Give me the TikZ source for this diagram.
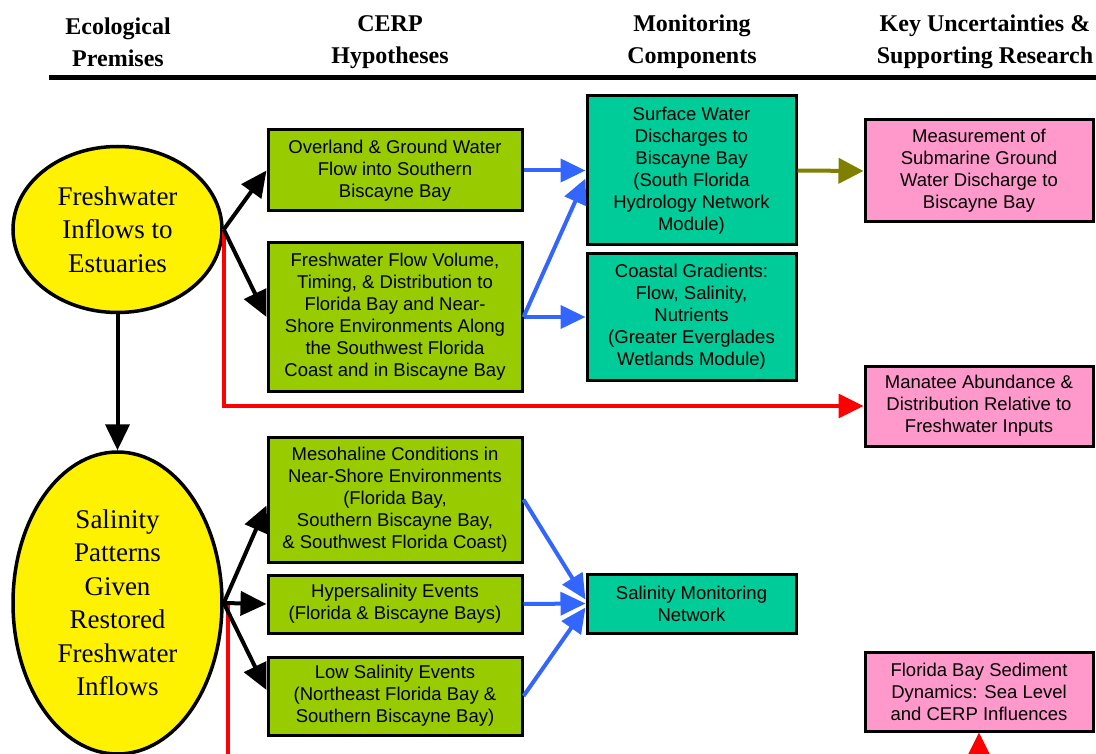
\documentclass[tikz,border=0pt]{standalone}
\usepackage{fontspec}
\setmainfont{Liberation Serif}
\setsansfont{Liberation Sans}
\usetikzlibrary{arrows.meta,shapes.geometric}
\definecolor{boxgreen}{HTML}{99CC00}
\definecolor{boxteal}{HTML}{00CC99}
\definecolor{boxpink}{HTML}{FF99CC}
\definecolor{arrblue}{HTML}{3366FF}
\definecolor{arrolive}{HTML}{808000}
\begin{document}
\begin{tikzpicture}[x=1pt,y=-1pt,
  box/.style={draw=black,line width=3pt,rectangle,inner sep=0pt,align=center,
    font=\sffamily\fontsize{18.5}{22}\selectfont},
  hyp/.style={box,fill=boxgreen,minimum width=254pt},
  mon/.style={box,fill=boxteal,minimum width=209pt},
  unc/.style={box,fill=boxpink,minimum width=228pt},
  prem/.style={ellipse,draw=black,line width=3.5pt,fill=yellow,inner sep=0pt,align=center,
    font=\rmfamily\fontsize{27}{33.5}\selectfont,minimum width=209pt},
  head/.style={align=center,font=\rmfamily\bfseries\fontsize{24}{32}\selectfont},
  blk/.style={draw=black,line width=4pt,-{Triangle[length=26pt,width=24pt]}},
  blu/.style={draw=arrblue,line width=4pt,-{Triangle[length=25pt,width=23pt]}},
  olv/.style={draw=arrolive,line width=4pt,-{Triangle[length=25pt,width=25pt]}},
  rd/.style={draw=red,line width=3.5pt,-{Triangle[length=25pt,width=24pt]}},
  rdl/.style={draw=red,line width=3.5pt},
]
\useasboundingbox (0,0) rectangle (1096,754);

% headings
\node[head] (h1) at (118,42) {Ecological\\Premises};
\node[head] (h2) at (390,42) {CERP\\Hypotheses};
\node[head] (h3) at (692,42) {Monitoring\\Components};
\node[head] (h4) at (985,42) {Key Uncertainties \&\\Supporting Research};
\coordinate (rl) at (49,78);
\coordinate (rr) at (1100,78);
\draw[line width=5pt] (rl) -- (rr);

% premises
\node[prem,minimum height=166pt] (e1) at (117.5,229.5) {Freshwater\\Inflows to\\Estuaries};
\node[prem,minimum height=302pt] (e2) at (117.5,603) {Salinity\\Patterns\\Given\\Restored\\Freshwater\\Inflows};

% hypotheses
\node[hyp,minimum height=81pt] (ov) at (395,170.5) {Overland \& Ground Water\\Flow into Southern\\Biscayne Bay};
\node[hyp,minimum height=148pt] (fv) at (395,317) {Freshwater Flow Volume,\\Timing, \& Distribution to\\Florida Bay and Near-\\Shore Environments Along\\the Southwest Florida\\Coast and in Biscayne Bay};
\node[hyp,minimum height=125pt] (meso) at (395,499.5) {Mesohaline Conditions in\\Near-Shore Environments\\(Florida Bay,\\Southern Biscayne Bay,\\\& Southwest Florida Coast)};
\node[hyp,minimum height=58pt] (hy) at (395,604) {Hypersalinity Events\\(Florida \& Biscayne Bays)};
\node[hyp,minimum height=78pt] (lo) at (395,696) {Low Salinity Events\\(Northeast Florida Bay \&\\Southern Biscayne Bay)};

% monitoring
\node[mon,minimum height=149pt] (sw) at (691.5,170.5) {Surface Water\\Discharges to\\Biscayne Bay\\(South Florida\\Hydrology Network\\Module)};
\node[mon,minimum height=126pt] (cg) at (691.5,317) {Coastal Gradients:\\Flow, Salinity,\\Nutrients\\(Greater Everglades\\Wetlands Module)};
\node[mon,minimum height=59pt] (sm) at (691.5,603.5) {Salinity Monitoring\\Network};

% uncertainties
\node[unc,minimum height=102pt] (me) at (979,171) {Measurement of\\Submarine Ground\\Water Discharge to\\Biscayne Bay};
\node[unc,minimum height=80pt] (ma) at (979,406) {Manatee Abundance \&\\Distribution Relative to\\Freshwater Inputs};
\node[unc,minimum height=79pt] (fb) at (979,691.5) {Florida Bay Sediment\\Dynamics: Sea Level\\and CERP Influences};

% connectors
\draw[rd] (e1.east) |- (ma.west);
\coordinate (rb) at (228,760);
\draw[rdl] (e2.east) -| (rb);
\coordinate (sb) at (979,760);
\draw[rd] (sb) -- (fb.south);

\draw[blk] (e1.east) -- (ov.west);
\draw[blk] (e1.east) -- (fv.west);
\draw[blk] (e1.south) -- (e2.north);
\draw[blk] (e2.east) -- ([yshift=-6pt]meso.west);
\draw[blk] (e2.east) -- (hy.west);
\draw[blk] (e2.east) -- ([yshift=6pt]lo.west);

\draw[blu] (ov.east) -- (sw.west);
\draw[blu] (fv.east) -- ([yshift=-8pt]sw.west);
\draw[blu] (fv.east) -- (cg.west);
\draw[blu] (meso.east) -- ([yshift=4pt]sm.west);
\draw[blu] (hy.east) -- (sm.west);
\draw[blu] (lo.east) -- ([yshift=-4pt]sm.west);

\draw[olv] (sw.east) -- (me.west);
\end{tikzpicture}
\end{document}
